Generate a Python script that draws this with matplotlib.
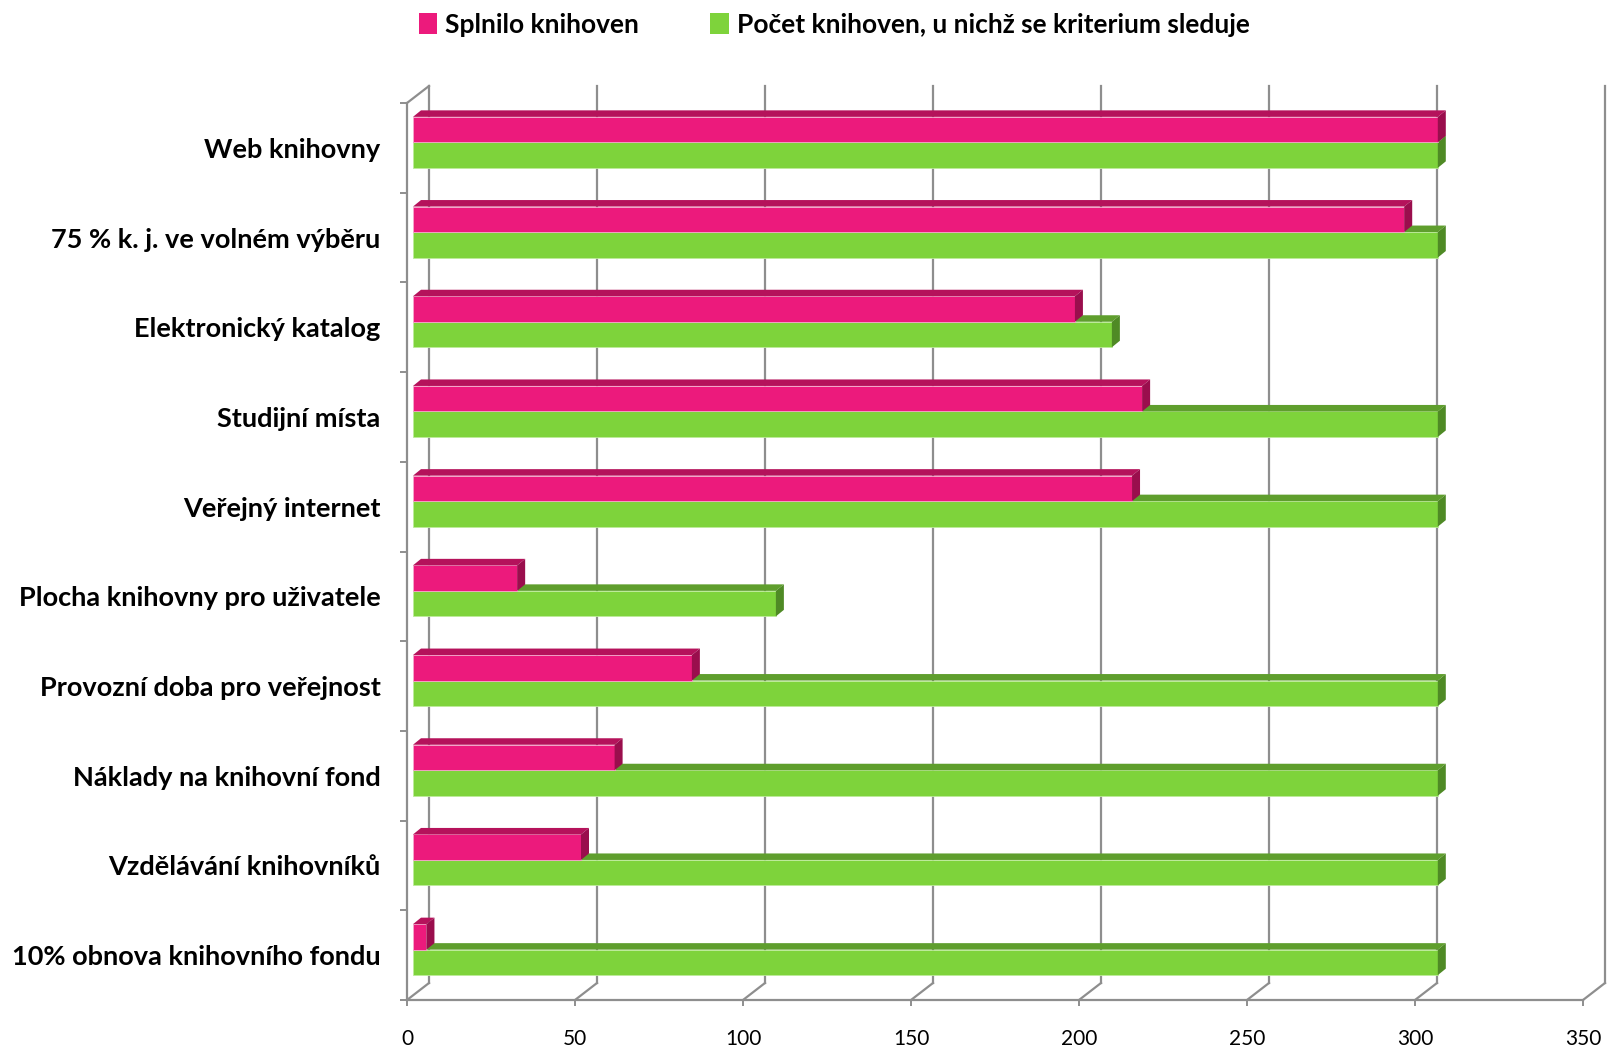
import matplotlib
matplotlib.use("Agg")
import matplotlib.pyplot as plt
from matplotlib.patches import Polygon, Patch

plt.rcParams['font.family'] = ['Lato', 'DejaVu Sans']

# data, top to bottom as shown
categories = ["Web knihovny", "75 % k. j. ve volném výběru", "Elektronický katalog",
              "Studijní místa", "Veřejný internet", "Plocha knihovny pro uživatele",
              "Provozní doba pro veřejnost", "Náklady na knihovní fond",
              "Vzdělávání knihovníků", "10% obnova knihovního fondu"]
splnilo = [305, 295, 197, 217, 214, 31, 83, 60, 50, 4]
pocet = [305, 305, 208, 305, 305, 108, 305, 305, 305, 305]
series_names = ["Splnilo knihoven", "Počet knihoven, u nichž se kriterium sleduje"]
xticks = [0, 50, 100, 150, 200, 250, 300, 350]

# colours: front, top, side
PINK = ("#EC1A7C", "#B5125B", "#9A0E4D")
GREEN = ("#7ED33B", "#5F9E2D", "#4F8A25")
GRID = "#8E8E8E"

W, H = 1610, 1049
fig = plt.figure(figsize=(W / 100, H / 100), dpi=100)
ax = fig.add_axes([407 / W, 49 / H, 1176 / W, 897 / H])
n = len(categories)
ax.set_xlim(0, 350)
ax.set_ylim(0, n)

# pixel -> data unit conversion
sx = 1176 / 350
sy = 897 / n
def px(dx, dy):
    return dx / sx, dy / sy

BX, BY = px(22, 17)     # back wall offset
OX, OY = px(6, 5.5)     # bar front plane offset
DX, DY = px(8, 6.5)     # bar depth
h = 25.5 / sy           # bar height

# back wall gridlines and floor
for v in xticks:
    ax.plot([v + BX, v + BX], [BY, n + BY], color=GRID, lw=1.6, clip_on=False, zorder=1)
    ax.plot([v, v + BX], [0, BY], color=GRID, lw=1.6, clip_on=False, zorder=1)
ax.plot([0, BX], [n, n + BY], color=GRID, lw=1.6, clip_on=False, zorder=1)

def bar3d(y0, val, cols, z):
    x0 = OX
    x1 = OX + val
    ax.barh(y0 + h / 2, val, left=x0, height=h, color=cols[0],
            edgecolor="#F6A9CC" if cols is PINK else "#BDEB9A", linewidth=0.6, zorder=z)
    top = Polygon([(x0, y0 + h), (x1, y0 + h), (x1 + DX, y0 + h + DY), (x0 + DX, y0 + h + DY)],
                  closed=True, facecolor=cols[1], edgecolor="none", zorder=z)
    side = Polygon([(x1, y0), (x1, y0 + h), (x1 + DX, y0 + h + DY), (x1 + DX, y0 + DY)],
                   closed=True, facecolor=cols[2], edgecolor="none", zorder=z)
    ax.add_patch(top)
    ax.add_patch(side)

for i in range(n):
    c = n - i - 0.5
    bar3d(c + OY - h, pocet[i], GREEN, 3 + i * 2)
    bar3d(c + OY, splnilo[i], PINK, 4 + i * 2)

# axes styling
for s in ["top", "right"]:
    ax.spines[s].set_visible(False)
for s in ["left", "bottom"]:
    ax.spines[s].set_color(GRID)
    ax.spines[s].set_linewidth(1.6)
    ax.spines[s].set_zorder(1)

ax.set_xticks(xticks)
ax.set_xticklabels([str(t) for t in xticks], fontsize=15)
ax.tick_params(axis="x", length=4, width=1.4, color=GRID, pad=17)

ax.set_yticks(range(n + 1))
ax.set_yticklabels([])
ax.set_yticks([n - i - 0.5 for i in range(n)], minor=True)
ax.set_yticklabels(categories, minor=True, fontsize=19.5, fontweight="bold")
ax.tick_params(axis="y", which="major", length=5, width=1.4, color=GRID)
ax.tick_params(axis="y", which="minor", length=0, pad=19)

handles = [Patch(facecolor=PINK[0]), Patch(facecolor=GREEN[0])]
fig.legend(handles, series_names, loc="center", bbox_to_anchor=(834 / W, 1 - 25 / H),
           ncol=2, frameon=False, prop={"size": 19, "weight": "bold"},
           handlelength=0.7, handleheight=0.85, handletextpad=0.3, columnspacing=2.7)

fig.savefig("out.png", dpi=100)
